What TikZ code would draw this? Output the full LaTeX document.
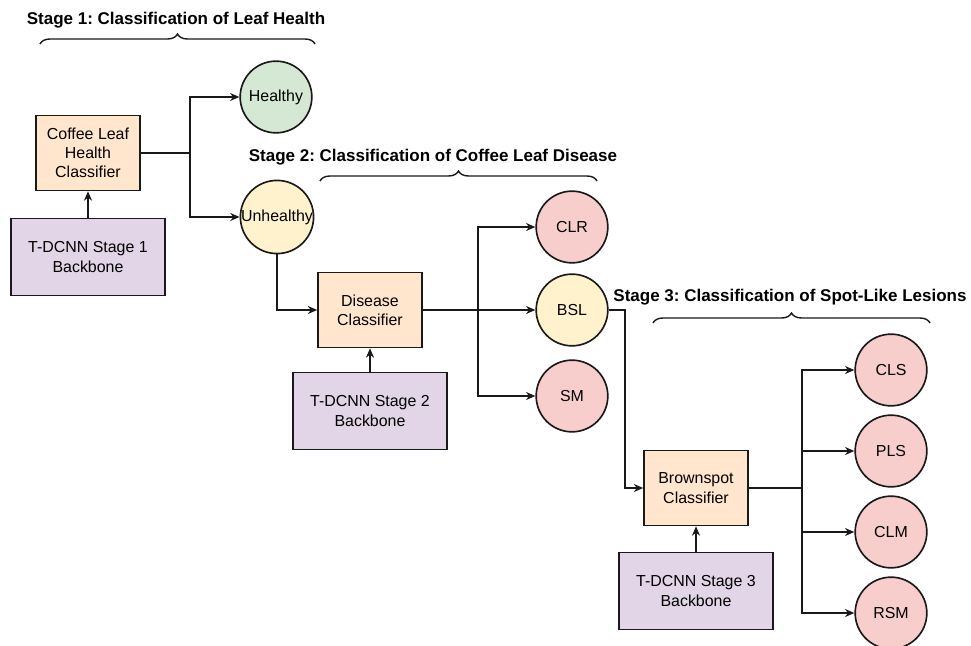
\documentclass[tikz,border=0pt]{standalone}
\usepackage{fontspec}
\setmainfont{Liberation Sans}
\usetikzlibrary{arrows.meta, positioning, calc, decorations.pathreplacing}
\definecolor{peachfill}{RGB}{255, 230, 204}
\definecolor{lavenderfill}{RGB}{225, 213, 231}
\definecolor{leafgreen}{RGB}{213, 232, 212}
\definecolor{paleyellow}{RGB}{255, 242, 204}
\definecolor{palered}{RGB}{248, 206, 204}
\definecolor{inkblack}{RGB}{25, 25, 25}
\frenchspacing
\tikzset{
  >=Stealth,
  flowarrow/.style={-{Stealth[length=2.8mm, width=2.4mm]}, line width=1.4pt, inkblack},
  flowline/.style={line width=1.4pt, inkblack},
  bracebar/.style={decorate, decoration={brace, amplitude=3mm}, line width=1.2pt, inkblack}
}
\tikzset{
  classbox/.style={rectangle, draw=inkblack, line width=1.4pt, fill=peachfill, minimum width=3.12cm, minimum height=2.25cm, align=center, font=\fontsize{13.6}{16.4}\selectfont},
  backbonebox/.style={rectangle, draw=inkblack, line width=1.4pt, fill=lavenderfill, minimum width=4.62cm, minimum height=2.31cm, align=center, font=\fontsize{13.6}{16.8}\selectfont},
  outcircle/.style={circle, draw=inkblack, line width=1.4pt, minimum size=2.15cm, inner sep=0pt, font=\fontsize{13.6}{16}\selectfont},
  stagetitle/.style={font=\fontsize{14.5}{17}\selectfont\bfseries}
}

\begin{document}
\begin{tikzpicture}[x=0.03cm, y=-0.03cm]
    \useasboundingbox (0, 0) rectangle (971, 646);

    % Stage 1: leaf health
    \node[stagetitle] (title1) at (176, 20) {Stage 1: Classification of Leaf Health};
    \draw[bracebar] (40, 44) -- (315, 44);

    \node[classbox] (healthclf) at (88, 153) {Coffee Leaf\\Health\\Classifier};
    \node[backbonebox] (backbone1) at (88, 257) {T-DCNN Stage 1\\Backbone};
    \node[outcircle, fill=leafgreen] (healthy) at (276, 97) {Healthy};
    \node[outcircle, fill=paleyellow] (unhealthy) at (277, 217) {Unhealthy};

    \draw[flowarrow] (backbone1) -- (healthclf);
    \coordinate (split1) at (190, 153);
    \draw[flowline] (healthclf.east) -- (split1);
    \draw[flowarrow] (split1) |- (healthy);
    \draw[flowarrow] (split1) |- (unhealthy);

    % Stage 2: disease
    \node[stagetitle] (title2) at (433, 157) {Stage 2: Classification of Coffee Leaf Disease};
    \draw[bracebar] (320, 181) -- (597, 181);

    \node[classbox] (diseaseclf) at (370, 310) {Disease\\Classifier};
    \node[backbonebox] (backbone2) at (370, 411) {T-DCNN Stage 2\\Backbone};
    \node[outcircle, fill=palered] (clr) at (572, 227) {CLR};
    \node[outcircle, fill=paleyellow] (bsl) at (572, 310) {BSL};
    \node[outcircle, fill=palered] (sm) at (572, 396) {SM};

    \draw[flowarrow] (unhealthy) |- (diseaseclf);
    \draw[flowarrow] (backbone2) -- (diseaseclf);
    \draw[flowarrow] (diseaseclf) -- (bsl);
    \coordinate (split2) at (478, 310);
    \draw[flowarrow] (split2) |- (clr);
    \draw[flowarrow] (split2) |- (sm);

    % Stage 3: spot-like lesions
    \node[stagetitle] (title3) at (790, 297) {Stage 3: Classification of Spot-Like Lesions};
    \draw[bracebar] (653, 323) -- (930, 323);

    \node[classbox] (brownclf) at (696, 488) {Brownspot\\Classifier};
    \node[backbonebox] (backbone3) at (696, 591) {T-DCNN Stage 3\\Backbone};
    \node[outcircle, fill=palered] (cls) at (891, 370) {CLS};
    \node[outcircle, fill=palered] (pls) at (891, 451) {PLS};
    \node[outcircle, fill=palered] (clm) at (891, 532) {CLM};
    \node[outcircle, fill=palered] (rsm) at (891, 613) {RSM};

    \coordinate (turn3) at (625, 310);
    \draw[flowarrow] (bsl) -- (turn3) |- (brownclf);
    \draw[flowarrow] (backbone3) -- (brownclf);
    \coordinate (split3) at (802, 488);
    \draw[flowline] (brownclf) -- (split3);
    \foreach \leaf in {cls, pls, clm, rsm}
        \draw[flowarrow] (split3) |- (\leaf);
\end{tikzpicture}
\end{document}
